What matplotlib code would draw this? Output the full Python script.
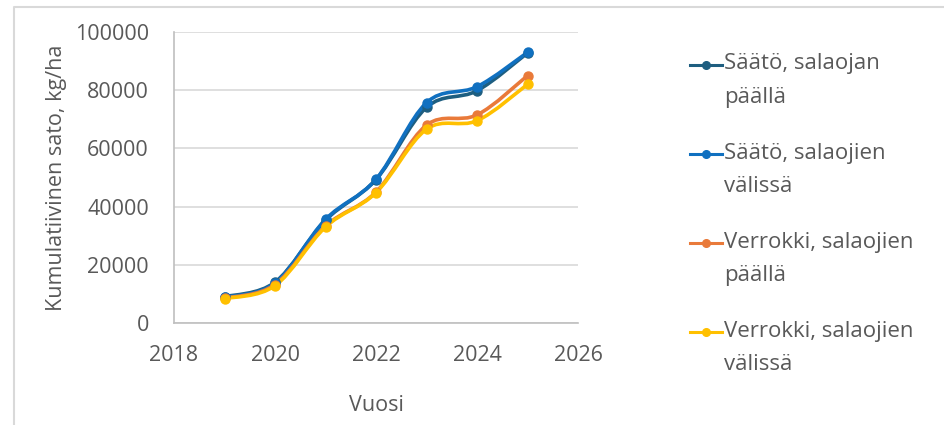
#!/usr/bin/env python3

import numpy as np
import matplotlib
matplotlib.use("Agg")
import matplotlib.pyplot as plt
from matplotlib.path import Path
from matplotlib.patches import PathPatch
from matplotlib.lines import Line2D

plt.rcParams['font.family'] = ['Open Sans', 'DejaVu Sans']

years = [2019, 2020, 2021, 2022, 2023, 2024, 2025]
saato_paalla = [9000, 14000, 35300, 49300, 74100, 79800, 92800]
saato_valissa = [8800, 13700, 35600, 49400, 75700, 81200, 93000]
verrokki_paalla = [8500, 13200, 33300, 45000, 68000, 71500, 85000]
verrokki_valissa = [8350, 12800, 33000, 44800, 66600, 69500, 82000]

labels = ["Säätö, salaojan\npäällä", "Säätö, salaojien\nvälissä",
          "Verrokki, salaojien\npäällä", "Verrokki, salaojien\nvälissä"]
colors = ["#1E5E80", "#1070C0", "#E97A3A", "#FFC000"]
series = [saato_paalla, saato_valissa, verrokki_paalla, verrokki_valissa]

text_col = "#595959"
W, H = 945, 425


def smooth_path(x, y):
    # bezier curve through the points, like a "smoothed line" in a spreadsheet
    p = np.column_stack([x, y]).astype(float)
    n = len(p)
    verts = [p[0]]
    codes = [Path.MOVETO]
    for i in range(n - 1):
        p0 = p[i - 1] if i > 0 else p[i]
        p3 = p[i + 2] if i + 2 < n else p[i + 1]
        c1 = p[i] + (p[i + 1] - p0) / 6.0
        c2 = p[i + 1] - (p3 - p[i]) / 6.0
        verts += [c1, c2, p[i + 1]]
        codes += [Path.CURVE4] * 3
    return Path(verts, codes)


def fx(px):
    return px / W


def fy(py):
    return 1 - py / H


fig = plt.figure(figsize=(W / 100, H / 100), dpi=100)
ax = fig.add_axes([fx(174), fy(323), (578 - 174) / W, (323 - 32) / H])

for vals, col in zip(series, colors):
    ax.add_patch(PathPatch(smooth_path(years, vals), fill=False, edgecolor=col, lw=2.6,
                           capstyle='round', joinstyle='round'))
    ax.plot(years, vals, ls='none', marker='o', ms=6.5, color=col)

ax.set_xlim(2018, 2026)
ax.set_ylim(0, 100000)
ax.set_xticks([2018, 2020, 2022, 2024, 2026])
ax.set_yticks(np.arange(0, 100001, 20000))
ax.yaxis.grid(True, color="#D9D9D9", lw=1.2)
ax.set_axisbelow(True)
for s in ['top', 'right']:
    ax.spines[s].set_visible(False)
for s in ['left', 'bottom']:
    ax.spines[s].set_color("#BFBFBF")
    ax.spines[s].set_linewidth(1.2)
ax.tick_params(length=0, labelsize=15.5, colors=text_col)
ax.tick_params(axis='y', pad=18)
ax.tick_params(axis='x', pad=16)
ax.set_xlabel("Vuosi", fontsize=15.5, color=text_col, labelpad=21)
ax.set_ylabel("Kumulatiivinen sato, kg/ha", fontsize=15.5, color=text_col, labelpad=6)

# legend, drawn by hand to get the wide spreadsheet-style spacing
for i, (lab, col) in enumerate(zip(labels, colors)):
    y0 = 64 + 89 * i
    fig.add_artist(Line2D([fx(690), fx(722)], [fy(y0 + 1)] * 2, color=col, lw=2.2,
                          transform=fig.transFigure))
    fig.add_artist(Line2D([fx(706)], [fy(y0 + 1)], color=col, marker='o', ms=5.5,
                          transform=fig.transFigure))
    for j, line in enumerate(lab.split("\n")):
        fig.text(fx(724), fy(y0 + 33 * j), line, fontsize=16, color=text_col,
                 va='center', ha='left')

# chart area border (top and left edges are visible)
fig.add_artist(Line2D([fx(14), fx(14), 1.0], [0.0, fy(7), fy(7)], color="#D9D9D9",
                      lw=1.5, transform=fig.transFigure))

fig.savefig("out.png", dpi=100)
